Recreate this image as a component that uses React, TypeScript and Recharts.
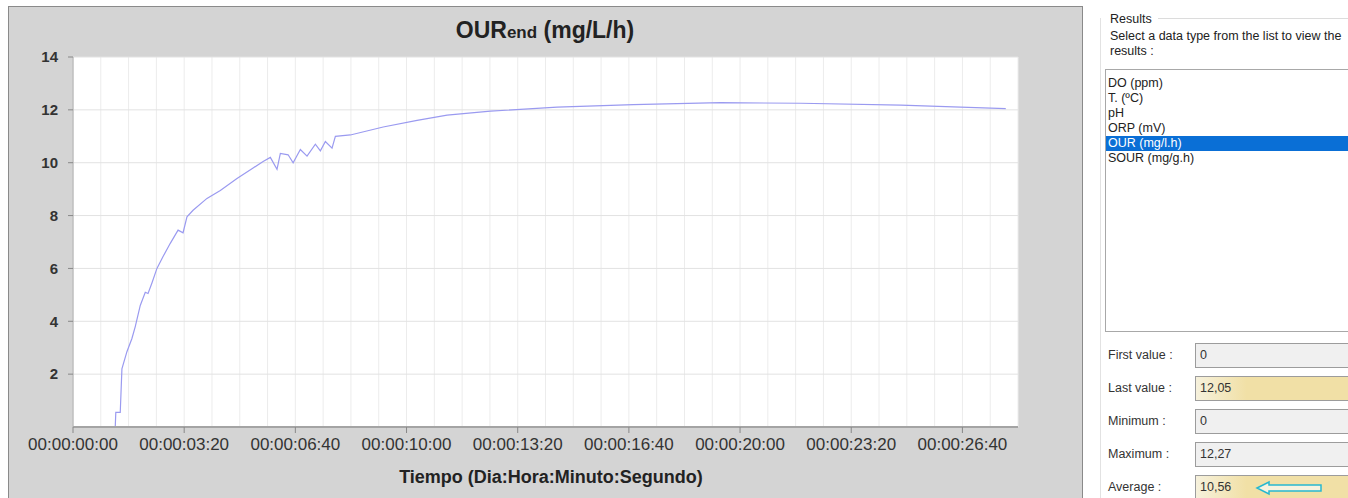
import { LineChart, Line, XAxis, YAxis, CartesianGrid } from 'recharts';

// OUR readings, time in seconds since start
const TIME_S = [
  76, 77, 85, 88, 97, 106, 112, 121, 130, 135, 142, 151, 162, 175, 189, 198,
  205, 216, 241, 265, 295, 324, 342, 355, 367, 373, 387, 396, 409, 421, 436,
  445, 454, 466, 472, 499, 558, 619, 673, 751, 871, 1008, 1165, 1309, 1489, 1678,
];
const OUR_VALUES = [
  0, 0.55, 0.55, 2.2, 2.85, 3.35, 3.8, 4.6, 5.1, 5.05, 5.45, 6.0, 6.45, 6.95, 7.45, 7.35,
  7.95, 8.2, 8.65, 8.95, 9.4, 9.8, 10.05, 10.2, 9.75, 10.35, 10.3, 10.0, 10.5, 10.25, 10.7,
  10.45, 10.8, 10.55, 11.0, 11.05, 11.35, 11.6, 11.8, 11.95, 12.1, 12.2, 12.27, 12.25, 12.18, 12.05,
];

const X_TICKS = [0, 200, 400, 600, 800, 1000, 1200, 1400, 1600];
const Y_TICKS = [2, 4, 6, 8, 10, 12, 14];
const X_MINOR = Array.from({ length: 35 }, (_, i) => i * 50);
const Y_MINOR = Array.from({ length: 29 }, (_, i) => i * 0.5);

const DATA_TYPES = ['DO (ppm)', 'T. (ºC)', 'pH', 'ORP (mV)', 'OUR (mg/l.h)', 'SOUR (mg/g.h)'];
const STAT_LABELS = ['First value :', 'Last value :', 'Minimum :', 'Maximum :', 'Average :'];
const STAT_VALUES = ['0', '12,05', '0', '12,27', '10,56'];

const data = TIME_S.map((t, i) => ({ t, our: OUR_VALUES[i] }));

const pad = (n: number) => String(n).padStart(2, '0');
const fmtTime = (s: number) => `00:00:${pad(Math.floor(s / 60))}:${pad(s % 60)}`;
const blank = () => '';

const font = '"Liberation Sans", Arial, sans-serif';

function ResultsPanel() {
  const ui: React.CSSProperties = { position: 'absolute', fontFamily: font, fontSize: 12.5, color: '#222', whiteSpace: 'nowrap' };
  return (
    <>
      <div style={{ ...ui, left: 1110, top: 12 }}>Results</div>
      <div style={{ position: 'absolute', left: 1158, top: 18, width: 200, height: 1, background: '#dcdcdc' }} />
      <div style={{ position: 'absolute', left: 1100, top: 18, width: 1, height: 480, background: '#e2e2e2' }} />
      <div style={{ ...ui, left: 1110, top: 29 }}>Select a data type from the list to view the</div>
      <div style={{ ...ui, left: 1110, top: 44 }}>results :</div>
      <div style={{ position: 'absolute', left: 1105, top: 69, width: 260, height: 263, border: '1px solid #a8a8a8', background: '#fff', boxSizing: 'border-box', paddingTop: 6 }}>
        {DATA_TYPES.map((d) => (
          <div key={d} style={{ fontFamily: font, fontSize: 12.5, lineHeight: '15px', height: 15, paddingLeft: 2, color: d.startsWith('OUR') ? '#fff' : '#222', background: d.startsWith('OUR') ? '#0a6fd6' : 'transparent' }}>{d}</div>
        ))}
      </div>
      {STAT_LABELS.map((l, i) => {
        const top = 343 + i * 33;
        const yellow = i === 1 || i === 4;
        return (
          <div key={l}>
            <div style={{ ...ui, left: 1108, top: top + 5, color: '#333' }}>{l}</div>
            <div style={{ position: 'absolute', left: 1195, top, width: 170, height: 25, boxSizing: 'border-box', border: '1px solid #9c9c9c', background: yellow ? 'linear-gradient(90deg, #f6f1dc 0%, #f1e0a6 30%, #f1e0a6 100%)' : '#f0f0f0', fontFamily: font, fontSize: 12.5, lineHeight: '23px', paddingLeft: 4, color: '#333' }}>
              {STAT_VALUES[i]}
            </div>
          </div>
        );
      })}
      <svg style={{ position: 'absolute', left: 1255, top: 480 }} width={70} height={16}>
        <path d="M2 8 L14 2 L14 5 L66 5 L66 11 L14 11 L14 14 Z" fill="#f7f3e0" stroke="#28b8d0" strokeWidth={1.5} />
      </svg>
    </>
  );
}

export default function App() {
  return (
    <div style={{ position: 'fixed', left: 0, top: 0, width: 1348, height: 498, background: '#fff', overflow: 'hidden' }}>
      <div style={{ position: 'absolute', left: 8, top: 6, width: 1075, height: 500, background: '#d4d4d4', border: '1px solid #8a8a8a', boxSizing: 'border-box' }} />
      <div style={{ position: 'absolute', left: 8, top: 6 }}>
        <LineChart width={1075} height={492} data={data} margin={{ top: 51, right: 65, bottom: 0, left: 0 }}>
          <CartesianGrid xAxisId="minor" yAxisId="0" horizontal={false} stroke="#ececec" fill="#fff" />
          <CartesianGrid xAxisId="0" yAxisId="0" vertical={false} stroke="#e2e2e2" />
          <XAxis xAxisId="minor" dataKey="t" type="number" domain={[0, 1700]} ticks={X_MINOR} height={0} tickFormatter={blank} tickSize={3} axisLine={false} tickLine={{ stroke: '#888', transform: 'translate(0,-2)' }} allowDataOverflow />
          <XAxis xAxisId="top" orientation="top" dataKey="t" type="number" domain={[0, 1700]} ticks={X_MINOR} height={0} tickFormatter={blank} tickSize={4} axisLine={{ stroke: '#c0c0c0' }} tickLine={{ stroke: '#888' }} allowDataOverflow />
          <XAxis
            xAxisId="0"
            dataKey="t"
            type="number"
            domain={[0, 1700]}
            ticks={X_TICKS}
            tickFormatter={fmtTime}
            height={71}
            tickSize={6}
            tickMargin={5}
            axisLine={{ stroke: '#a4a4a4', strokeWidth: 2 }}
            tickLine={{ stroke: '#888' }}
            tick={{ fill: '#333', fontSize: 17, fontFamily: font }}
            allowDataOverflow
          />
          <YAxis yAxisId="minor" type="number" domain={[0, 14]} ticks={Y_MINOR} width={0} mirror tickFormatter={blank} tickSize={4} axisLine={false} tickLine={{ stroke: '#888' }} allowDataOverflow />
          <YAxis
            yAxisId="0"
            type="number"
            domain={[0, 14]}
            ticks={Y_TICKS}
            width={65}
            tickSize={5}
            tickMargin={10}
            axisLine={{ stroke: '#a8a8a8' }}
            tickLine={{ stroke: '#888' }}
            tick={{ fill: '#333', fontSize: 15, fontFamily: font, fontWeight: 600 }}
            allowDataOverflow
          />
          <YAxis yAxisId="right" orientation="right" type="number" domain={[0, 14]} width={0} tick={false} tickLine={false} axisLine={{ stroke: '#a8a8a8', strokeWidth: 2 }} />
          <Line xAxisId="0" yAxisId="0" dataKey="our" type="linear" stroke="#9a9af0" strokeWidth={1.2} dot={false} isAnimationActive={false} />
        </LineChart>
      </div>
      <div style={{ position: 'absolute', left: 0, width: 1090, top: 16, textAlign: 'center', fontFamily: font, fontWeight: 'bold', color: '#222', fontSize: 23, lineHeight: '28px' }}>
        OUR<span style={{ fontSize: 17 }}>end</span> (mg/L/h)
      </div>
      <div style={{ position: 'absolute', left: 0, width: 1102, top: 466, textAlign: 'center', fontFamily: font, fontWeight: 'bold', color: '#222', fontSize: 18, lineHeight: '22px' }}>
        Tiempo (Dia:Hora:Minuto:Segundo)
      </div>
      <ResultsPanel />
    </div>
  );
}
